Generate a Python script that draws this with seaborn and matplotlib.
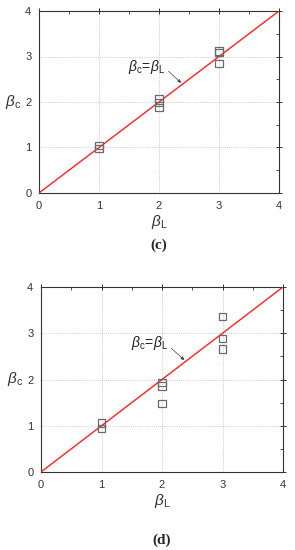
import numpy as np
import pandas as pd
import matplotlib
matplotlib.use("Agg")
import matplotlib.pyplot as plt
import seaborn as sns

sns.set_style("white")
plt.rcParams['font.family'] = ['Liberation Sans', 'DejaVu Sans']
plt.rcParams['mathtext.fontset'] = 'custom'
plt.rcParams['mathtext.it'] = 'Liberation Sans:italic'
plt.rcParams['mathtext.rm'] = 'Liberation Sans'

# Panel (c)
c_beta_L = [1, 1, 2, 2, 2, 3, 3, 3]
c_beta_c = [1.04, 0.985, 2.07, 1.99, 1.88, 3.12, 3.08, 2.84]
# Panel (d)
d_beta_L = [1, 1, 2, 2, 2, 3, 3, 3]
d_beta_c = [1.06, 0.95, 1.93, 1.86, 1.49, 3.37, 2.88, 2.66]
line_x = [0, 4]
line_y = [0, 4]
ticks = [0, 1, 2, 3, 4]
panel_labels = ['(c)', '(d)']

fig = plt.figure(figsize=(2.95, 5.5), dpi=100)
W, H = 295, 550
boxes = [(39, 11, 279, 193), (41, 287, 283, 472)]
label_y = [245, 540]

datasets = [(c_beta_L, c_beta_c), (d_beta_L, d_beta_c)]
for i, ((x0, y0, x1, y1), (bx, by)) in enumerate(zip(boxes, datasets)):
    ax = fig.add_axes([x0 / W, 1 - y1 / H, (x1 - x0) / W, (y1 - y0) / H])
    df = pd.DataFrame({'L': bx, 'c': by})
    ln = pd.DataFrame({'x': line_x, 'y': line_y})
    sns.lineplot(data=ln, x='x', y='y', ax=ax, color='#ff2020', lw=1.0, zorder=3)
    sns.scatterplot(data=df, x='L', y='c', ax=ax, marker='s', s=26,
                    facecolor='none', edgecolor='#6a6a6a', linewidth=0.9, zorder=4)
    ax.set_xlim(0, 4)
    ax.set_ylim(0, 4)
    ax.set_xticks(ticks)
    ax.set_yticks(ticks)
    ax.set_xticks(np.arange(0.5, 4, 1.0), minor=True)
    ax.set_yticks(np.arange(0.5, 4, 1.0), minor=True)
    ax.tick_params(which='both', top=True, right=True, labelsize=8, colors='#333333')
    ax.tick_params(which='major', direction='inout', length=4, width=0.7, pad=3.5)
    ax.tick_params(which='minor', direction='in', length=2, width=0.6)
    ax.grid(True, which='major', ls=(0, (1, 1.5)), color='#bbbbbb', lw=0.6)
    for s in ax.spines.values():
        s.set_color('#333333')
        s.set_linewidth(0.8)
    ax.set_xlabel(r'$\mathit{\beta}_{\rm L}$', fontsize=11, labelpad=2, color='#333333')
    ax.set_ylabel(r'$\mathit{\beta}_{\rm c}$', fontsize=11, rotation=0, labelpad=9, color='#333333', va='center')
    ax.annotate(r'$\mathit{\beta}_{\rm c}\!=\!\mathit{\beta}_{\rm L}$', xy=(2.37, 2.42), xytext=(1.48, 2.78),
                fontsize=10, color='#222222', va='center',
                arrowprops=dict(arrowstyle='-|>', color='#444444', lw=0.5,
                                mutation_scale=5, shrinkA=0, shrinkB=0,
                                relpos=(1.0, 0.4)))
    fig.text(0.5 * (x0 + x1) / W, 1 - label_y[i] / H, panel_labels[i], ha='center', va='center',
             fontsize=11, fontweight='bold', family='Liberation Serif')

fig.savefig('out.png', dpi=100)
